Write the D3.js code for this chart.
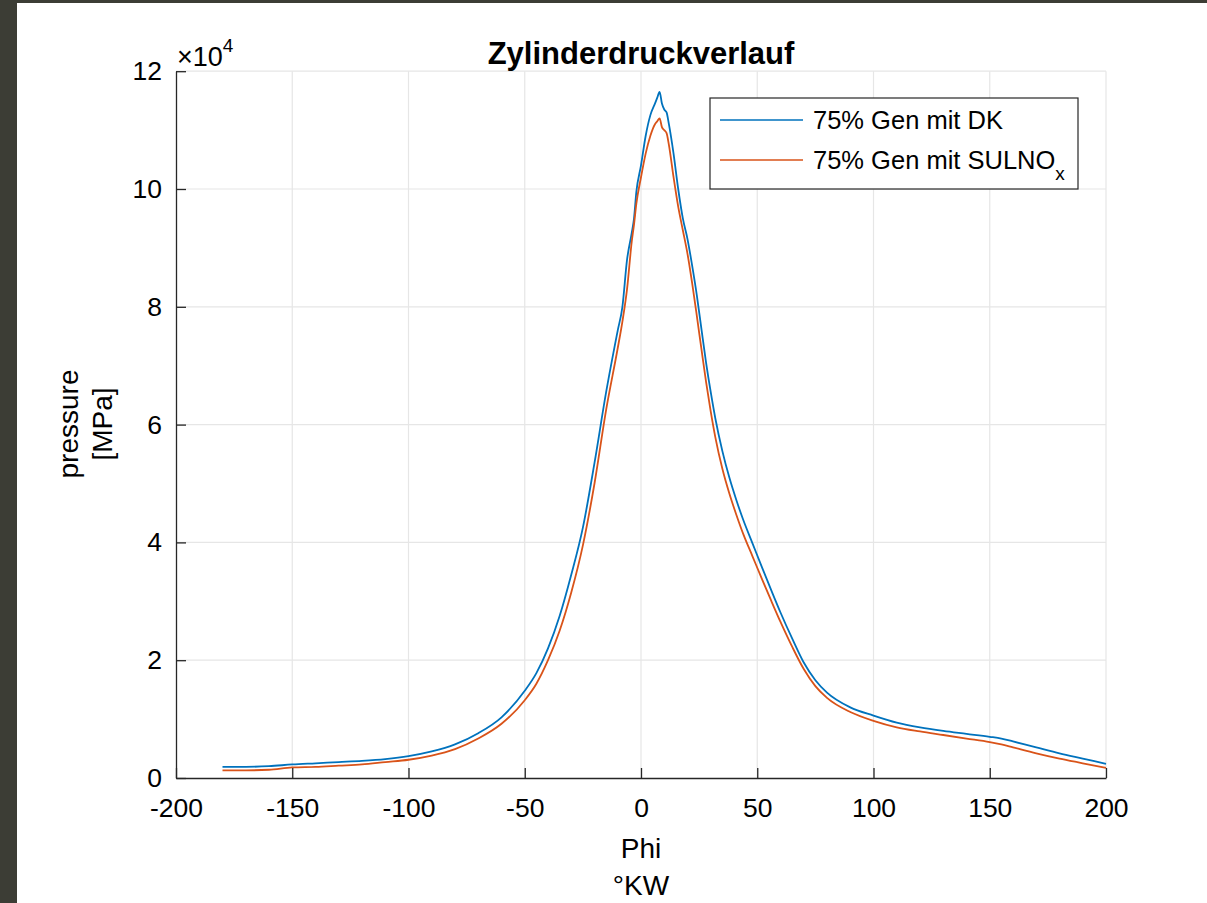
<!DOCTYPE html>
<html>
<head>
<meta charset="utf-8">
<script src="https://cdn.jsdelivr.net/npm/d3@7"></script>
<style>
  html, body { margin: 0; padding: 0; background: #3c3d35; }
  svg { display: block; }
  text { font-family: "Liberation Sans", Arial, Helvetica, sans-serif; fill: #000; }
</style>
</head>
<body>
<script>
// ---- data (pressure in units of 1e4) ----
const phi = [-180, -170, -160, -150, -140, -130, -120, -110, -100, -90, -80, -70, -60, -50,
  -45, -40, -35, -30, -25, -20, -15, -10,
  -8, -6, -4, -3, -2,
  0, 2, 4, 6, 7, 8, 9, 10, 11, 12,
  14, 16, 18,
  20, 22, 24, 26, 28, 30, 32,
  35, 38, 41, 44, 48,
  52, 56, 60, 65, 70, 75, 80,
  90, 100, 110, 120, 130, 140, 150,
  155, 160, 170, 180, 190, 200];
const pressureDK = [0.19, 0.19, 0.20, 0.23, 0.25, 0.27, 0.29, 0.32, 0.37, 0.45, 0.57, 0.76, 1.03, 1.48,
  1.78, 2.2, 2.75, 3.45, 4.25, 5.35, 6.55, 7.6,
  8.0, 8.8, 9.25, 9.5, 9.95,
  10.4, 10.9, 11.25, 11.45, 11.55, 11.65, 11.45, 11.35, 11.3, 11.1,
  10.6, 10.0, 9.5,
  9.15, 8.7, 8.2, 7.62, 7.05, 6.55, 6.1,
  5.55, 5.1, 4.72, 4.38, 3.98,
  3.58, 3.19, 2.81, 2.37, 1.96, 1.66, 1.45,
  1.2, 1.06, 0.94, 0.86, 0.8, 0.75, 0.70,
  0.67, 0.62, 0.52, 0.42, 0.33, 0.24];
const pressureSULNOx = [0.13, 0.13, 0.14, 0.18, 0.19, 0.21, 0.23, 0.27, 0.31, 0.38, 0.49, 0.67, 0.92, 1.32,
  1.6, 2.0, 2.5, 3.15, 3.95, 5.0, 6.25, 7.3,
  7.75, 8.3, 9.1, 9.4, 9.75,
  10.2, 10.6, 10.9, 11.1, 11.15, 11.2, 11.05, 11.0, 10.95, 10.75,
  10.2, 9.7, 9.3,
  8.9, 8.4, 7.85, 7.28, 6.72, 6.22, 5.78,
  5.25, 4.83, 4.47, 4.14, 3.76,
  3.38, 3.01, 2.65, 2.23, 1.85, 1.56, 1.36,
  1.12, 0.97, 0.86, 0.79, 0.73, 0.67, 0.61,
  0.57, 0.52, 0.42, 0.33, 0.25, 0.17];
const xTicks = [-200, -150, -100, -50, 0, 50, 100, 150, 200];
const yTicks = [0, 2, 4, 6, 8, 10, 12];
const seriesNames = ["75% Gen mit DK", "75% Gen mit SULNO"];
const seriesColors = ["#0072BD", "#D95319"];

const W = 1207, H = 903;
const svg = d3.select("body").append("svg").attr("width", W).attr("height", H);

// frame: dark border left/top, white canvas
svg.append("rect").attr("x", 0).attr("y", 0).attr("width", W).attr("height", H).attr("fill", "#3c3d35");
svg.append("rect").attr("x", 17).attr("y", 3).attr("width", W - 17).attr("height", H - 3).attr("fill", "#ffffff");

const L = 176, R = 1106, T = 71.2, B = 778;
const x = d3.scaleLinear().domain([-200, 200]).range([L, R]);
const y = d3.scaleLinear().domain([0, 12]).range([B, T]);

// grid
const grid = svg.append("g");
grid.selectAll("line.gx").data(xTicks.filter(d => d !== -200)).enter().append("line")
  .attr("x1", d => x(d)).attr("x2", d => x(d)).attr("y1", T).attr("y2", B)
  .attr("stroke", "#e6e6e6").attr("stroke-width", 1.2);
grid.selectAll("line.gy").data(yTicks.filter(d => d !== 0)).enter().append("line")
  .attr("x1", L).attr("x2", R).attr("y1", d => y(d)).attr("y2", d => y(d))
  .attr("stroke", "#e6e6e6").attr("stroke-width", 1.2);

// series
const series = [pressureDK, pressureSULNOx];
const line = d3.line().x((d, i) => x(phi[i])).y(d => y(d)).curve(d3.curveMonotoneX);
series.forEach((s, k) => {
  svg.append("path").datum(s).attr("d", line).attr("fill", "none")
    .attr("stroke", seriesColors[k]).attr("stroke-width", 1.8).attr("stroke-linejoin", "round");
});

// axes (inward ticks, MATLAB style)
const xAxis = d3.axisBottom(x).tickValues(xTicks).tickSizeInner(-10).tickSizeOuter(0).tickPadding(20)
  .tickFormat(d3.format("d"));
const gx = svg.append("g").attr("transform", `translate(0,${B})`).call(xAxis);
gx.select(".domain").attr("stroke", "#262626").attr("stroke-width", 1.3);
gx.selectAll(".tick line").attr("stroke", "#262626").attr("stroke-width", 1.3);
gx.selectAll(".tick text").attr("font-size", 26.5).attr("fill", "#1a1a1a")
  .attr("font-family", "Liberation Sans, Arial, sans-serif");
gx.selectAll(".tick text").text(d => d < 0 ? "-" + Math.abs(d) : d);

const yAxis = d3.axisLeft(y).tickValues(yTicks).tickSizeInner(-10).tickSizeOuter(0).tickPadding(14)
  .tickFormat(d3.format("d"));
const gy = svg.append("g").attr("transform", `translate(${L},0)`).call(yAxis);
gy.select(".domain").attr("stroke", "#262626").attr("stroke-width", 1.3);
gy.selectAll(".tick line").attr("stroke", "#262626").attr("stroke-width", 1.3);
gy.selectAll(".tick text").attr("font-size", 26.5).attr("fill", "#1a1a1a")
  .attr("font-family", "Liberation Sans, Arial, sans-serif");

// exponent label
const ex = svg.append("text").attr("x", 177).attr("y", 66).attr("font-size", 27).attr("fill", "#1a1a1a");
ex.append("tspan").text("\u00d710");
ex.append("tspan").attr("font-size", 19).attr("dy", -14).text("4");

// title
svg.append("text").attr("x", 641).attr("y", 64).attr("text-anchor", "middle")
  .attr("font-size", 31).attr("font-weight", "bold").text("Zylinderdruckverlauf");

// x label
svg.append("text").attr("x", 641).attr("y", 858).attr("text-anchor", "middle").attr("font-size", 28).text("Phi");
svg.append("text").attr("x", 641).attr("y", 895).attr("text-anchor", "middle").attr("font-size", 28).text("\u00b0KW");

// y label
svg.append("text").attr("transform", "translate(78,424) rotate(-90)").attr("text-anchor", "middle")
  .attr("font-size", 28).text("pressure");
svg.append("text").attr("transform", "translate(112,424) rotate(-90)").attr("text-anchor", "middle")
  .attr("font-size", 28).text("[MPa]");

// legend
const lg = svg.append("g");
lg.append("rect").attr("x", 710).attr("y", 98).attr("width", 368).attr("height", 91)
  .attr("fill", "#ffffff").attr("stroke", "#262626").attr("stroke-width", 1.2);
const rowsY = [120, 160];
seriesNames.forEach((name, k) => {
  lg.append("line").attr("x1", 720).attr("x2", 803).attr("y1", rowsY[k]).attr("y2", rowsY[k])
    .attr("stroke", seriesColors[k]).attr("stroke-width", 1.6);
  const t = lg.append("text").attr("x", 813).attr("y", rowsY[k] + 9).attr("font-size", 25.5).attr("fill", "#000");
  t.append("tspan").text(name);
  if (k === 1) t.append("tspan").attr("font-size", 19).attr("dy", 11).text("x");
});
</script>
</body>
</html>
